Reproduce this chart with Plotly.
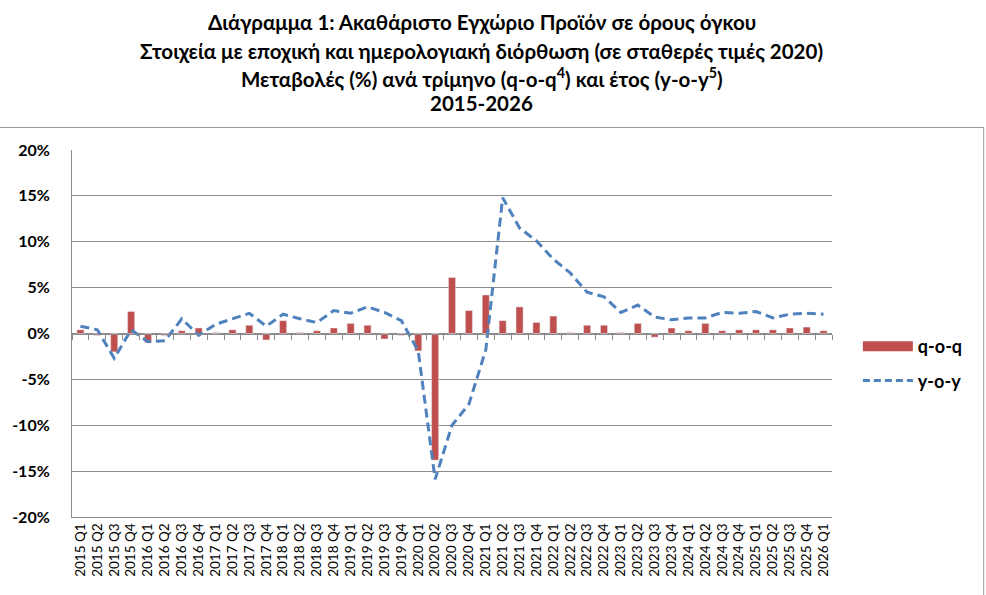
import plotly.graph_objects as go

years = [2015]*4 + [2016]*4 + [2017]*4 + [2018]*4 + [2019]*4 + [2020]*4 + [2021]*4 + [2022]*4 + [2023]*4 + [2024]*4 + [2025]*4 + [2026]
quarters = (["Q1", "Q2", "Q3", "Q4"] * 11) + ["Q1"]
categories = [f"{y} {q}" for y, q in zip(years, quarters)]

qoq = [0.4, -0.2, -2.0, 2.4, -1.0, -0.2, 0.3, 0.6,
       0.1, 0.4, 0.9, -0.7, 1.4, 0.1, 0.3, 0.6,
       1.1, 0.9, -0.6, -0.2, -1.9, -13.8, 6.1, 2.5,
       4.2, 1.4, 2.9, 1.2, 1.9, 0.1, 0.9, 0.9,
       0.1, 1.1, -0.4, 0.6, 0.3, 1.1, 0.3, 0.4,
       0.4, 0.4, 0.6, 0.7, 0.3]
yoy = [0.8, 0.4, -2.7, 0.4, -0.9, -0.8, 1.6, -0.2,
       1.0, 1.6, 2.2, 0.8, 2.1, 1.6, 1.2, 2.5,
       2.2, 2.9, 2.3, 1.4, -1.9, -15.9, -10.0, -7.7,
       -1.8, 14.8, 11.5, 10.1, 8.1, 6.6, 4.5, 4.0,
       2.3, 3.1, 1.8, 1.5, 1.7, 1.7, 2.3, 2.2,
       2.4, 1.7, 2.1, 2.2, 2.1]

title_lines = [
    "Διάγραμμα 1: Ακαθάριστο Εγχώριο Προϊόν σε όρους όγκου",
    "Στοιχεία με εποχική και ημερολογιακή διόρθωση (σε σταθερές τιμές 2020)",
    "Μεταβολές (%) ανά τρίμηνο (q-o-q<sup>4</sup>) και έτος (y-o-y<sup>5</sup>)",
    "2015-2026",
]

BAR = "#C0504D"
LINE = "#4F81BD"
GRID = "#8C8C8C"
FONT = "Lato"

W, H = 986, 595
ML, MR, MT, MB = 68, 154, 150, 78
PW, PH = W - ML - MR, H - MT - MB

def px_x(p):
    return (p - ML) / PW

def px_y(p):
    return (H - MB - p) / PH

fig = go.Figure()
fig.add_trace(go.Bar(x=categories, y=qoq, marker_color=BAR, showlegend=False,
                     name="q-o-q"))
fig.add_trace(go.Scatter(x=categories, y=yoy, mode="lines", name="y-o-y",
                         line=dict(color=LINE, width=3, dash="9px,5px"),
                         showlegend=False))
# legend proxies
fig.add_trace(go.Scatter(x=[categories[0]], y=[None], mode="lines", name="q-o-q",
                         line=dict(color=BAR, width=11), legendgroup="a"))
fig.add_trace(go.Scatter(x=[categories[0]], y=[None], mode="lines", name="y-o-y",
                         line=dict(color=LINE, width=3, dash="7px,4px"), legendgroup="b"))
# helper axis for tick marks at the zero line
n = len(categories)
fig.add_trace(go.Scatter(x=[0], y=[None], xaxis="x2", showlegend=False, hoverinfo="skip"))

fig.update_layout(
    width=W, height=H,
    margin=dict(l=ML, r=MR, t=MT, b=MB),
    paper_bgcolor="white", plot_bgcolor="white",
    font=dict(family=FONT, color="black"),
    bargap=0.58,
    xaxis=dict(type="category", tickangle=-90, tickfont=dict(size=13.5, family=FONT),
               showline=True, linecolor=GRID, linewidth=1, ticks="", showgrid=False,
               range=[-0.5, n - 0.5]),
    xaxis2=dict(overlaying="x", anchor="free", position=0.5, range=[-0.5, n - 0.5],
                tickvals=[k - 0.5 for k in range(n + 1)], ticks="outside", ticklen=5,
                tickcolor=GRID, showline=True, linecolor=GRID, linewidth=1,
                showticklabels=False, showgrid=False, zeroline=False),
    yaxis=dict(range=[-20, 20], tickvals=[-20, -15, -10, -5, 0, 5, 10, 15, 20],
               ticktext=["-20%", "-15%", "-10%", "-5%", "0%", "5%", "10%", "15%", "20%"],
               tickfont=dict(size=16, family=FONT, weight="bold"),
               showgrid=True, gridcolor=GRID, gridwidth=1, zeroline=False,
               showline=True, linecolor=GRID, linewidth=1, ticklabelstandoff=18),
    legend=dict(x=px_x(858), y=px_y(328), xanchor="left", yanchor="top",
                font=dict(size=18, family=FONT, weight="bold"), itemwidth=50,
                tracegroupgap=8, traceorder="grouped", bgcolor="rgba(0,0,0,0)"),
    showlegend=True,
)

fig.add_shape(type="rect", xref="paper", yref="paper",
              x0=px_x(-5), x1=px_x(984.5), y0=px_y(600), y1=px_y(127.5),
              line=dict(color="#9a9a9a", width=1), layer="below")

for i, (line, ypix) in enumerate(zip(title_lines, [22, 51, 77, 103])):
    fig.add_annotation(text=line, xref="paper", yref="paper", x=px_x(480), y=px_y(ypix),
                       xanchor="center", yanchor="middle", showarrow=False,
                       font=dict(size=20.5, family=FONT, weight="bold"))

fig.write_html("out.html")
